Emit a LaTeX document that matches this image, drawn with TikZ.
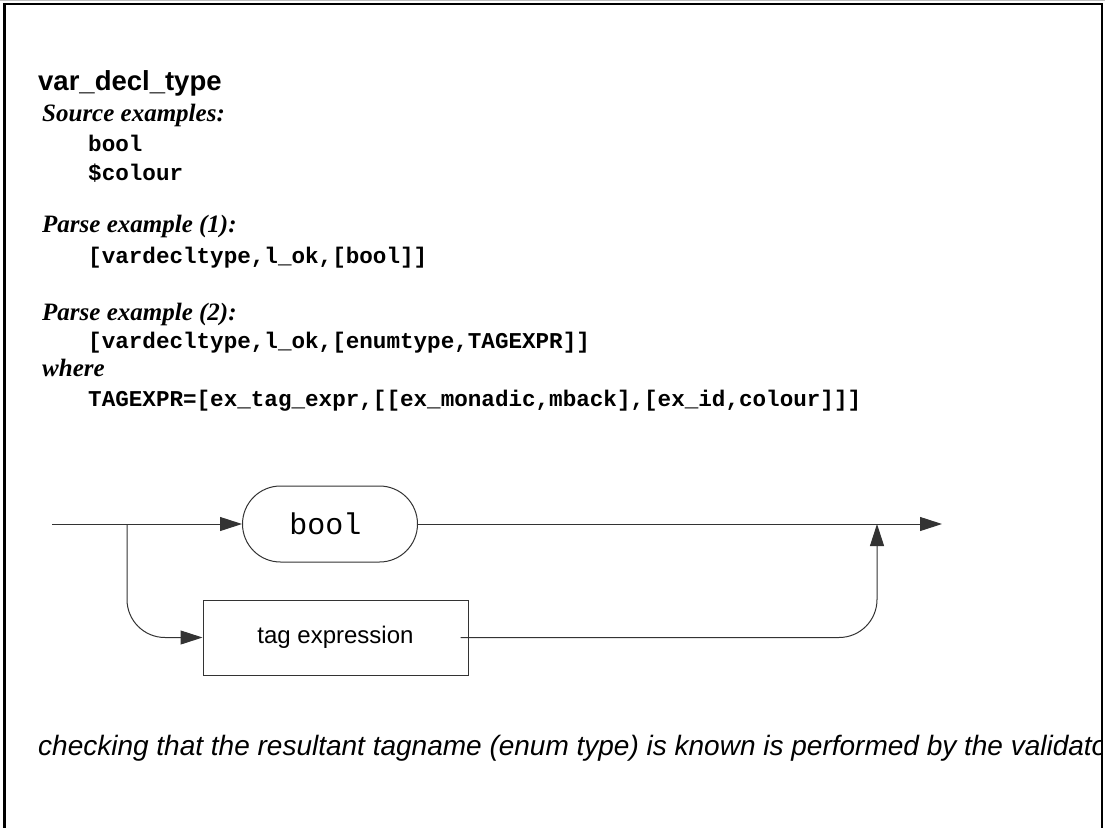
\documentclass[tikz,border=0pt]{standalone}
\usepackage{fontspec}
\setmainfont{Liberation Serif}
\setsansfont{Liberation Sans}
\setmonofont{Liberation Mono}
\usetikzlibrary{arrows.meta}

\begin{document}
\begin{tikzpicture}[x=1pt,y=-1pt,
  heading/.style={anchor=base west, inner sep=0pt, font=\fontsize{27.5}{32}\selectfont\sffamily\bfseries},
  caption/.style={anchor=base west, inner sep=0pt, font=\fontsize{25}{29}\selectfont\bfseries\itshape},
  code/.style={anchor=base west, inner sep=0pt, font=\fontsize{22.6}{26}\selectfont\ttfamily\bfseries},
  note/.style={anchor=base west, inner sep=0pt, font=\fontsize{28}{32}\selectfont\sffamily\itshape},
  rail/.style={line width=1pt, draw=black!80},
  tip/.style={-{Triangle[length=22pt,width=14pt]}},
  terminal/.style={draw=black!80, line width=1pt, rounded corners=38pt,
    minimum width=175pt, minimum height=76pt, inner sep=0pt,
    font=\fontsize{30}{34}\selectfont\ttfamily},
  nonterminal/.style={draw=black!80, line width=1pt,
    minimum width=265pt, minimum height=75pt, inner sep=0pt,
    font=\fontsize{24}{28}\selectfont\sffamily},
]
\useasboundingbox (0,0) rectangle (1105,827);

% frame (open at the bottom)
\draw[black!25, line width=1pt] (0,0.5) -- (1105,0.5);
\draw[line width=2.5pt, line cap=rect] (4.5,827) -- (4.5,4) -- (1102,4) -- (1102,827);

% header and examples
\node[heading] (title) at (38,90) {var\_decl\_type};
\node[caption] (src) at (42,121) {Source examples:};
\node[code] (ex1) at (88,151) {bool};
\node[code] (ex2) at (88,180) {\$colour};
\node[caption] (pe1) at (42,232) {Parse example (1):};
\node[code] (pe1a) at (88,263) {[vardecltype,l\_ok,[bool]]};
\node[caption] (pe2) at (42,320) {Parse example (2):};
\node[code] (pe2a) at (88,348) {[vardecltype,l\_ok,[enumtype,TAGEXPR]]};
\node[caption] (where) at (42,376) {where};
\node[code] (pe2b) at (88,406) {TAGEXPR=[ex\_tag\_expr,[[ex\_monadic,mback],[ex\_id,colour]]]};

% syntax diagram
\coordinate (start) at (52,524);
\coordinate (split) at (127,524);
\coordinate (join) at (877,524);
\coordinate (finish) at (942,524);
\node[terminal] (bool) at (330,524) {\hspace*{-9pt}bool};
\node[nonterminal] (tagexpr) at (335.5,637.5) {tag expression};

\draw[rail, tip] (start) -- (bool.west);
\draw[rail, tip] (bool.east) -- (finish);
\draw[rail, tip, rounded corners=38pt] (split) |- (tagexpr.west);
\draw[rail, tip, rounded corners=38pt] ([xshift=-8pt]tagexpr.east) -| (join);

% closing remark, cut off by the frame
\begin{scope}
  \clip (5,700) rectangle (1101,800);
  \node[note] (remark) at (38,755) {checking that the resultant tagname (enum type) is known is performed by the validator};
\end{scope}
\end{tikzpicture}
\end{document}
